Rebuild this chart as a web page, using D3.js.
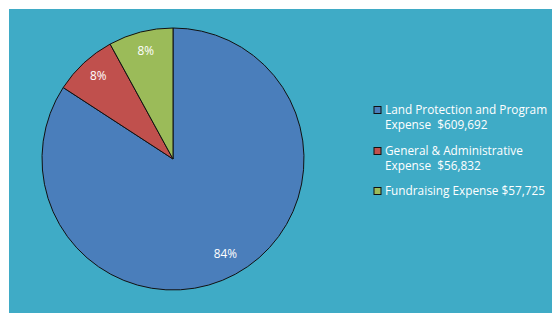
<!DOCTYPE html>
<html>
<head>
<meta charset="utf-8">
<script src="https://cdn.jsdelivr.net/npm/d3@7"></script>
<style>
  body { margin: 0; background: #fff; }
  svg { display: block; }
  text { font-family: "Open Sans", "Liberation Sans", sans-serif; fill: #fff; white-space: pre; }
</style>
</head>
<body>
<script>
// datos del gráfico
var categorias = ["Land Protection and Program Expense", "General & Administrative Expense", "Fundraising Expense"];
var valores = [609692, 56832, 57725];
var etiquetas = ["84%", "8%", "8%"];
var leyenda = [["Land Protection and Program", "Expense  $609,692"],
               ["General & Administrative", "Expense  $56,832"],
               ["Fundraising Expense $57,725"]];
var colores = ["#4A7EBB", "#C0504D", "#9BBB59"];

var width = 552, height = 313;

var svg = d3.select("body").append("svg")
    .attr("width", width)
    .attr("height", height);

// fondo
svg.append("rect")
   .attr("x", 9).attr("y", 9)
   .attr("width", width - 9).attr("height", height - 9)
   .attr("fill", "#3FABC6");

var radio = 131;
var g = svg.append("g").attr("transform", "translate(173,159)");

var pie = d3.pie().sort(null).value(function(d) { return d; });
var arcos = pie(valores);

var arc = d3.arc().innerRadius(0).outerRadius(radio);
var arcEtiqueta = d3.arc().innerRadius(110).outerRadius(110);

g.selectAll("path")
 .data(arcos)
 .enter().append("path")
 .attr("d", arc)
 .attr("fill", function(d, i) { return colores[i]; })
 .attr("stroke", "#111")
 .attr("stroke-width", 1);

g.selectAll("text.lbl")
 .data(arcos)
 .enter().append("text")
 .attr("class", "lbl")
 .attr("transform", function(d) {
     var c = arcEtiqueta.centroid(d);
     return "translate(" + c[0] + "," + (c[1] - 2) + ")";
 })
 .attr("text-anchor", "middle")
 .attr("dy", "0.35em")
 .style("font-size", "11.8px")
 .text(function(d, i) { return etiquetas[i]; });

// leyenda
var yLeyenda = [110, 151, 191];
var ley = svg.append("g");
leyenda.forEach(function(lineas, i) {
    ley.append("rect")
       .attr("x", 374).attr("y", yLeyenda[i] - 3.5)
       .attr("width", 7).attr("height", 7)
       .attr("fill", colores[i])
       .attr("stroke", "#111").attr("stroke-width", 1);
    var t = ley.append("text")
       .attr("x", 385).attr("y", yLeyenda[i] + 4)
       .style("font-size", "11.8px");
    lineas.forEach(function(l, j) {
        t.append("tspan")
         .attr("x", 385)
         .attr("dy", j == 0 ? 0 : 14.5)
         .text(l);
    });
});
</script>
</body>
</html>
